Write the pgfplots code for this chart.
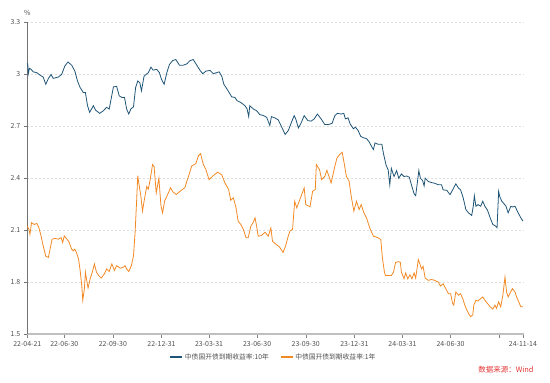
\documentclass[border=0pt]{standalone}
\usepackage{fontspec}
\setmainfont{Noto Sans CJK SC}
\usepackage{pgfplots}
\pgfplotsset{compat=1.18}
\definecolor{tenY}{RGB}{30,84,117}
\definecolor{oneY}{RGB}{243,137,36}
\definecolor{lbl}{RGB}{80,80,80}
\definecolor{src}{RGB}{226,52,52}
\begin{document}
\begin{tikzpicture}
\useasboundingbox (0,0) rectangle (550bp,383bp);
\begin{axis}[
  at={(27.3bp,49bp)}, anchor=south west,
  scale only axis, width=496.7bp, height=311.5bp,
  xmin=0, xmax=940, ymin=1.5, ymax=3.3,
  axis x line=bottom, axis y line=left,
  axis line style={-},
  x axis line style={draw=black!25, line width=1.3pt},
  y axis line style={draw=black!55, line width=0.6pt},
  xtick={0,70,162,254,344,435,527,619,710,801,893,938},
  xticklabels={22-04-21,22-06-30,22-09-30,22-12-31,23-03-31,23-06-30,23-09-30,23-12-31,24-03-31,24-06-30,,24-11-14},
  ytick={1.5,1.8,2.1,2.4,2.7,3.0,3.3},
  yticklabels={1.5,1.8,2.1,2.4,2.7,3,3.3},
  tick align=outside, major tick length=3.5bp,
  xtick style={draw=black!50, line width=0.5pt},
  ytick style={draw=black!55, line width=0.5pt},
  ymajorgrids, grid style={dash pattern=on 2bp off 2bp, draw=black!13, line width=0.5pt},
  ticklabel style={font=\fontsize{7}{8}\selectfont, text=lbl},
  clip=false,
  legend style={at={(0.4957,-0.074)}, anchor=center, draw=none, fill=none,
    legend columns=2, font=\fontsize{6.8}{8}\selectfont, text=lbl,
    /tikz/every even column/.append style={column sep=9bp}},
  legend image code/.code={\draw[#1, line width=1.4pt] (0bp,0bp) -- (12bp,0bp);},
]
\addplot[tenY, line width=0.8pt] table {
0 3.065
1 3.055
2 3.005
4 3.035
7 3.03
11 3.015
18 3.01
24 2.996
30 2.985
35 2.943
40 2.977
45 3.0
49 2.977
59 2.985
65 3.0
71 3.048
77 3.072
84 3.053
90 3.019
95 2.962
100 2.924
106 2.895
110 2.895
114 2.819
118 2.781
125 2.819
129 2.794
137 2.775
144 2.79
150 2.81
155 2.8
158 2.848
163 2.928
169 2.931
174 2.876
179 2.867
184 2.867
188 2.8
192 2.771
196 2.8
201 2.813
205 2.924
209 2.962
213 2.952
216 2.905
221 2.99
229 3.01
234 3.042
238 3.025
245 3.029
250 3.01
254 2.971
259 2.943
264 3.01
269 3.057
275 3.08
281 3.086
288 3.053
295 3.053
302 3.061
308 3.08
314 3.086
320 3.057
327 3.023
332 3.004
338 3.019
346 3.023
352 3.004
358 3.01
363 3.015
368 2.99
372 2.943
377 2.92
382 2.895
387 2.87
393 2.867
397 2.848
404 2.838
412 2.819
416 2.8
419 2.756
421 2.819
428 2.8
434 2.79
440 2.768
447 2.762
453 2.752
459 2.705
462 2.756
469 2.748
475 2.737
480 2.705
488 2.653
494 2.676
500 2.724
505 2.762
508 2.743
513 2.691
518 2.718
524 2.762
531 2.733
537 2.73
543 2.743
549 2.771
556 2.743
563 2.71
570 2.71
577 2.718
582 2.762
587 2.775
594 2.771
599 2.775
602 2.743
607 2.749
611 2.714
617 2.686
621 2.695
626 2.676
631 2.642
636 2.634
642 2.629
647 2.61
652 2.581
655 2.566
658 2.604
664 2.596
671 2.596
674 2.543
679 2.476
683 2.448
686 2.362
689 2.457
694 2.41
699 2.444
703 2.4
708 2.425
713 2.41
718 2.413
723 2.406
727 2.362
732 2.31
735 2.299
738 2.371
741 2.444
744 2.4
748 2.387
751 2.356
753 2.4
759 2.381
765 2.375
771 2.371
778 2.362
784 2.362
787 2.333
794 2.33
800 2.305
805 2.333
811 2.368
816 2.343
820 2.333
825 2.286
830 2.219
835 2.2
841 2.185
844 2.238
846 2.299
849 2.238
853 2.248
858 2.238
862 2.267
866 2.238
871 2.215
876 2.171
881 2.133
886 2.124
889 2.114
892 2.324
894 2.295
898 2.267
901 2.257
906 2.238
910 2.2
915 2.238
918 2.234
923 2.238
929 2.2
934 2.171
938 2.152
};
\addlegendentry{中债国开债到期收益率:10年}
\addplot[oneY, line width=0.8pt] table {
0 2.124
3 2.105
5 2.076
8 2.143
13 2.133
18 2.139
22 2.114
26 2.067
30 2.01
35 1.949
40 1.943
43 1.99
47 2.048
52 2.052
59 2.048
64 2.057
67 2.029
70 2.067
75 2.048
79 2.032
84 1.99
87 1.981
90 1.99
93 1.971
97 1.933
100 1.867
103 1.781
105 1.695
108 1.762
110 1.857
113 1.8
115 1.766
119 1.819
123 1.857
127 1.905
131 1.857
135 1.838
140 1.823
146 1.848
150 1.876
155 1.861
160 1.905
165 1.867
169 1.895
176 1.88
182 1.886
185 1.895
188 1.876
192 1.861
197 1.895
201 1.952
204 2.086
207 2.276
209 2.415
211 2.371
215 2.295
218 2.21
221 2.267
226 2.352
229 2.337
233 2.4
237 2.479
240 2.467
244 2.315
249 2.40
253 2.24
256 2.2
260 2.27
267 2.315
271 2.345
276 2.32
282 2.306
289 2.325
298 2.345
305 2.41
311 2.47
319 2.485
324 2.53
328 2.542
333 2.48
338 2.45
344 2.392
352 2.415
360 2.435
368 2.42
374 2.373
381 2.335
385 2.273
390 2.287
395 2.23
399 2.152
404 2.133
409 2.104
414 2.056
418 2.056
423 2.123
427 2.142
431 2.171
434 2.123
437 2.065
443 2.069
450 2.088
456 2.065
461 2.113
464 2.036
471 2.017
477 2.004
480 1.99
484 1.971
489 2.01
493 2.057
497 2.095
502 2.105
506 2.267
510 2.229
517 2.287
524 2.344
527 2.248
535 2.235
540 2.325
545 2.335
547 2.479
553 2.45
557 2.392
563 2.41
567 2.446
571 2.41
575 2.373
582 2.469
586 2.517
591 2.537
596 2.55
599 2.498
604 2.41
609 2.383
613 2.296
618 2.21
623 2.267
628 2.219
632 2.248
637 2.2
642 2.171
648 2.113
655 2.065
664 2.056
669 2.046
672 1.94
676 1.855
678 1.838
683 1.838
689 1.838
693 1.857
697 1.914
703 1.918
706 1.914
708 1.857
713 1.819
716 1.853
720 1.819
724 1.842
728 1.819
732 1.853
735 1.823
740 1.93
743 1.905
746 1.876
749 1.891
753 1.823
759 1.81
765 1.815
771 1.81
778 1.8
782 1.777
787 1.79
792 1.762
797 1.733
801 1.733
805 1.676
807 1.667
811 1.743
816 1.724
820 1.733
824 1.705
828 1.667
831 1.644
835 1.619
839 1.6
843 1.61
845 1.667
849 1.695
853 1.69
858 1.705
862 1.714
866 1.695
871 1.676
876 1.657
881 1.644
885 1.667
888 1.648
892 1.686
896 1.657
900 1.724
904 1.829
907 1.743
910 1.714
913 1.733
918 1.762
923 1.743
926 1.714
930 1.686
934 1.657
938 1.657
};
\addlegendentry{中债国开债到期收益率:1年}
\node[anchor=center, font=\fontsize{7}{8}\selectfont, text=lbl] at (rel axis cs:0,1) [yshift=10bp] {\%};
\end{axis}
\node[anchor=center, font=\fontsize{7.5}{9}\selectfont, text=src] at (506bp,13bp) {数据来源：Wind};
\end{tikzpicture}
\end{document}
